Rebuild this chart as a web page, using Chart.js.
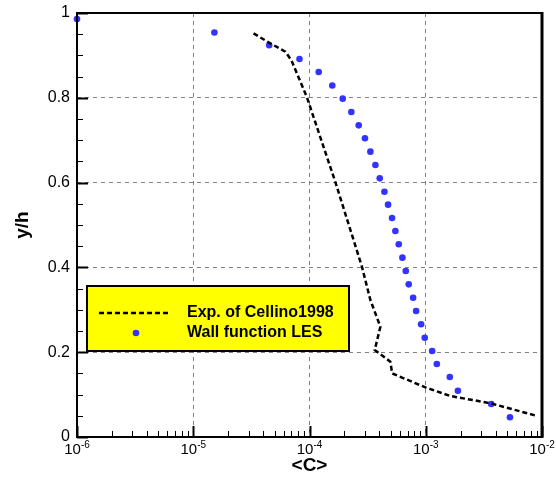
<!DOCTYPE html>
<html>
<head>
<meta charset="utf-8">
<title>Concentration profile</title>
<script src="https://cdn.jsdelivr.net/npm/chart.js@4.4.0/dist/chart.umd.min.js"></script>
<style>
    html, body { margin: 0; padding: 0; background: #fff; }
    #wrap { width: 556px; height: 478px; }
</style>
</head>
<body>
<div id="wrap"><canvas id="profil" width="556" height="478"></canvas></div>
<script>
// Measured profile (Cellino 1998), dashed line
const expC = [3.30e-5, 4.59e-5, 6.19e-5, 6.97e-5, 9.51e-5, 1.67e-4, 2.83e-4, 3.34e-4, 4.07e-4,
              3.64e-4, 4.96e-4, 5.14e-4, 9.94e-4, 1.63e-3, 3.61e-3, 9.1e-3];
const expY = [0.952, 0.9285, 0.909, 0.889, 0.801, 0.601, 0.401, 0.323, 0.260,
              0.205, 0.1776, 0.150, 0.117, 0.0967, 0.0795, 0.0495];

// LES with wall function, blue dots
const lesC = [1e-6, 1.52e-5, 4.5e-5, 8.2e-5, 1.2e-4, 1.57e-4, 1.93e-4, 2.29e-4, 2.65e-4, 3.0e-4,
              3.34e-4, 3.69e-4, 4.02e-4, 4.41e-4, 4.74e-4, 5.13e-4, 5.48e-4, 5.86e-4, 6.3e-4, 6.73e-4,
              7.14e-4, 7.79e-4, 8.26e-4, 9.12e-4, 9.8e-4, 1.135e-3, 1.245e-3, 1.61e-3, 1.89e-3, 3.66e-3, 5.3e-3];
const lesY = [0.986, 0.954, 0.924, 0.8915, 0.861, 0.829, 0.798, 0.7665, 0.735, 0.7045,
              0.673, 0.6415, 0.610, 0.5785, 0.548, 0.5165, 0.486, 0.4545, 0.423, 0.3915,
              0.360, 0.3285, 0.297, 0.266, 0.234, 0.203, 0.172, 0.1415, 0.109, 0.078, 0.0465];

// axis ticks
const xDecades = [1e-6, 1e-5, 1e-4, 1e-3, 1e-2];
const yMajor = [0, 0.2, 0.4, 0.6, 0.8, 1];
const yMinorStep = 0.05;

const seriesNames = ['Exp. of Cellino1998', 'Wall function LES'];
const axisTitles = { x: '<C>', y: 'y/h' };

const FONT = 'Arial, "Liberation Sans", Helvetica, sans-serif';
const BIRU = '#3333ff';

const toPoints = (xs, ys) => xs.map((v, i) => ({ x: v, y: ys[i] }));

// Frame, inward ticks, 10^n labels and the yellow legend box
const bingkaiPlugin = {
    id: 'bingkai',
    afterDatasetsDraw(chart) {
        const { ctx, chartArea: a } = chart;
        // legend box
        const bx = a.left + 10, by = a.top + 273, bw = 262, bh = 65;
        ctx.save();
        ctx.fillStyle = '#ffff00';
        ctx.fillRect(bx, by, bw, bh);
        ctx.lineWidth = 2;
        ctx.strokeStyle = '#000';
        ctx.strokeRect(bx, by, bw, bh);

        const ds = chart.data.datasets;
        // dashed sample
        ctx.beginPath();
        ctx.setLineDash(ds[0].borderDash);
        ctx.lineWidth = ds[0].borderWidth;
        ctx.moveTo(bx + 12, by + 27);
        ctx.lineTo(bx + 83, by + 27);
        ctx.stroke();
        ctx.setLineDash([]);
        // dot sample
        ctx.beginPath();
        ctx.fillStyle = BIRU;
        ctx.arc(bx + 49, by + 47, 3.3, 0, Math.PI * 2);
        ctx.fill();

        ctx.fillStyle = '#000';
        ctx.font = 'bold 16px ' + FONT;
        ctx.textAlign = 'left';
        ctx.textBaseline = 'middle';
        ctx.fillText(ds[0].label, bx + 100, by + 27);
        ctx.fillText(ds[1].label, bx + 100, by + 47);
        ctx.restore();
    },
    afterDraw(chart) {
        const { ctx, chartArea: a, scales } = chart;
        const sx = scales.x, sy = scales.y;
        ctx.save();
        ctx.strokeStyle = '#000';

        // minor + major ticks on the x axis, pointing inward
        for (let i = 0; i < xDecades.length; i++) {
            const d = xDecades[i];
            let px = Math.round(sx.getPixelForValue(d)) + 0.5;
            ctx.lineWidth = 2;
            ctx.beginPath();
            ctx.moveTo(px, a.bottom);
            ctx.lineTo(px, a.bottom - 11);
            ctx.stroke();
            if (i === xDecades.length - 1) break;
            ctx.lineWidth = 1;
            for (let k = 2; k <= 9; k++) {
                px = Math.round(sx.getPixelForValue(k * d)) + 0.5;
                ctx.beginPath();
                ctx.moveTo(px, a.bottom);
                ctx.lineTo(px, a.bottom - 6);
                ctx.stroke();
            }
        }

        // y ticks every 0.05, longer at the labelled values
        for (let v = 0; v <= 1.0001; v += yMinorStep) {
            const py = Math.round(sy.getPixelForValue(v)) + 0.5;
            const major = yMajor.some(m => Math.abs(m - v) < 1e-6);
            ctx.lineWidth = major ? 2 : 1;
            ctx.beginPath();
            ctx.moveTo(a.left, py);
            ctx.lineTo(a.left + (major ? 11 : 6), py);
            ctx.stroke();
        }

        // frame
        ctx.lineWidth = 2;
        ctx.strokeRect(a.left, a.top, a.right - a.left, a.bottom - a.top);
        ctx.lineWidth = 3;
        ctx.beginPath();
        ctx.moveTo(a.right, a.top - 1);
        ctx.lineTo(a.right, a.bottom + 1);
        ctx.stroke();

        // x labels as 10 with a raised exponent
        ctx.fillStyle = '#000';
        ctx.textAlign = 'left';
        ctx.textBaseline = 'alphabetic';
        xDecades.forEach(d => {
            const px = sx.getPixelForValue(d);
            const pangkat = String(Math.round(Math.log10(d)));
            ctx.font = '15px ' + FONT;
            const wBasis = ctx.measureText('10').width;
            ctx.font = '10px ' + FONT;
            const wPangkat = ctx.measureText(pangkat).width;
            const x0 = px - (wBasis + wPangkat) / 2;
            ctx.font = '15px ' + FONT;
            ctx.fillText('10', x0, a.bottom + 17);
            ctx.font = '10px ' + FONT;
            ctx.fillText(pangkat, x0 + wBasis, a.bottom + 11);
        });
        ctx.restore();
    }
};

const ctx = document.getElementById('profil').getContext('2d');

new Chart(ctx, {
    type: 'scatter',
    data: {
        datasets: [{
            label: seriesNames[0],
            data: toPoints(expC, expY),
            showLine: true,
            borderColor: '#000',
            borderWidth: 2.5,
            borderDash: [5, 3],
            pointRadius: 0,
            fill: false,
            tension: 0
        }, {
            label: seriesNames[1],
            data: toPoints(lesC, lesY),
            showLine: false,
            pointRadius: 3.3,
            pointBackgroundColor: BIRU,
            pointBorderWidth: 0,
            backgroundColor: BIRU,
            clip: false
        }]
    },
    options: {
        responsive: false,
        animation: false,
        layout: { padding: { top: 13, right: 14, left: 0, bottom: 0 } },
        plugins: {
            legend: { display: false },
            tooltip: { enabled: false }
        },
        scales: {
            x: {
                type: 'logarithmic',
                min: 1e-6,
                max: 1e-2,
                afterBuildTicks: (scale) => {
                    scale.ticks = xDecades.map(v => ({ value: v }));
                },
                afterFit: (scale) => {
                    scale.height = 41;
                    scale.paddingLeft = 0;
                    scale.paddingRight = 0;
                },
                ticks: { display: false },
                grid: { color: '#808080', lineWidth: 1, drawTicks: false, borderDash: [4, 4] },
                border: { display: false, dash: [4, 4] },
                title: {
                    display: true,
                    text: axisTitles.x,
                    color: '#000',
                    font: { family: FONT, size: 19, weight: 'bold' },
                    padding: { top: 0, bottom: 1 }
                }
            },
            y: {
                type: 'linear',
                min: 0,
                max: 1,
                afterBuildTicks: (scale) => {
                    scale.ticks = yMajor.map(v => ({ value: v }));
                },
                afterFit: (scale) => {
                    scale.width = 77;
                    scale.paddingTop = 0;
                    scale.paddingBottom = 0;
                },
                ticks: {
                    color: '#000',
                    padding: 7,
                    font: { family: FONT, size: 16 },
                    callback: (v) => (v === 0 || v === 1) ? String(v) : v.toFixed(1)
                },
                grid: { color: '#808080', lineWidth: 1, drawTicks: false, borderDash: [4, 4] },
                border: { display: false, dash: [4, 4] },
                title: {
                    display: true,
                    text: axisTitles.y,
                    color: '#000',
                    font: { family: FONT, size: 19, weight: 'bold' },
                    padding: { top: 11, bottom: 0 }
                }
            }
        }
    },
    plugins: [bingkaiPlugin]
});
</script>
</body>
</html>
